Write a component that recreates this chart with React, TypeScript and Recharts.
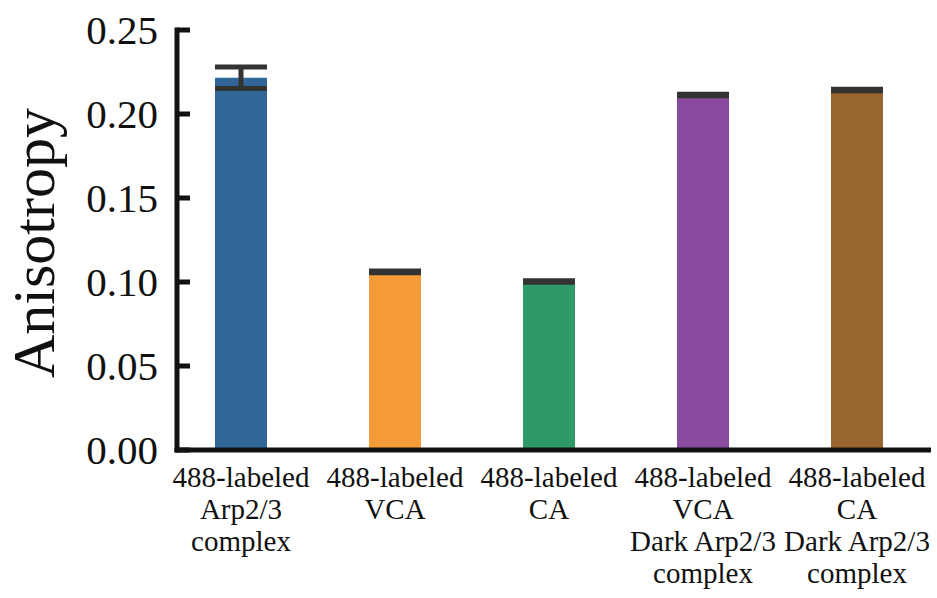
import React from "react"
import { Bar, BarChart, Cell, ErrorBar, XAxis, YAxis } from "recharts"

const categories = [
  "488-labeled\nArp2/3\ncomplex",
  "488-labeled\nVCA",
  "488-labeled\nCA",
  "488-labeled\nVCA\nDark Arp2/3\ncomplex",
  "488-labeled\nCA\nDark Arp2/3\ncomplex",
]
const anisotropy = [0.2216, 0.106, 0.1003, 0.2113, 0.2143]
const errors = [0.0064, 0.0005, 0.0005, 0.0005, 0.0005]
const barColors = ["#316699", "#f59b38", "#2d9a68", "#8a4a9e", "#98652f"]
const yTicks = [0, 0.05, 0.1, 0.15, 0.2, 0.25]

const data = categories.map((name, i) => ({
  name,
  value: anisotropy[i],
  err: errors[i],
}))

const FONT = '"Liberation Serif", "Times New Roman", serif'
const INK = "#111"
const AXIS_X = 177 // the y axis line sits a little inside the plot's left edge
const AXIS_END = 931

function YTick(props: any) {
  const { y, payload } = props
  const h = typeof props.height === "number" ? props.height : 420
  return (
    <g>
      {payload.value === 0 && (
        <line x1={AXIS_X} x2={AXIS_X} y1={y + 2.5} y2={y - h - 2.5} stroke={INK} strokeWidth={5} />
      )}
      <line x1={AXIS_X} x2={AXIS_X + 13} y1={y} y2={y} stroke={INK} strokeWidth={5} />
      <text x={158} y={y} dy="0.35em" textAnchor="end" fontFamily={FONT} fontSize={41} fill={INK}>
        {payload.value.toFixed(2)}
      </text>
    </g>
  )
}

function XTick(props: any) {
  const { x, y, payload, index } = props
  const lines = String(payload.value).split("\n")
  return (
    <g>
      {index === 0 && (
        <line x1={AXIS_X - 2.5} x2={AXIS_END} y1={y} y2={y} stroke={INK} strokeWidth={5} />
      )}
      <text x={x} y={y} textAnchor="middle" fontFamily={FONT} fontSize={29} fill={INK}>
        {lines.map((l, i) => (
          <tspan key={i} x={x} dy={i === 0 ? 37 : 32}>
            {l}
          </tspan>
        ))}
      </text>
    </g>
  )
}

function YTitle() {
  return (
    <text
      x={54}
      y={243}
      transform="rotate(-90, 54, 243)"
      textAnchor="middle"
      fontFamily={FONT}
      fontSize={60}
      fill={INK}
    >
      Anisotropy
    </text>
  )
}

export default function App() {
  return (
    <div style={{ position: "absolute", left: 0, top: 0, background: "#fff" }}>
      <BarChart
        width={937}
        height={598}
        data={data}
        margin={{ top: 30, right: 3, bottom: 0, left: 0 }}
        barSize={52}
      >
        <XAxis
          dataKey="name"
          height={148}
          axisLine={false}
          tickLine={false}
          tickSize={0}
          tickMargin={0}
          interval={0}
          tick={<XTick />}
        />
        <YAxis
          width={164}
          domain={[0, 0.25]}
          ticks={yTicks}
          axisLine={false}
          tickLine={false}
          tick={<YTick />}
          label={<YTitle />}
        />
        <Bar dataKey="value" isAnimationActive={false}>
          {data.map((d, i) => (
            <Cell key={d.name} fill={barColors[i]} />
          ))}
          <ErrorBar dataKey="err" width={26} strokeWidth={5} stroke="#333" direction="y" />
        </Bar>
      </BarChart>
    </div>
  )
}
